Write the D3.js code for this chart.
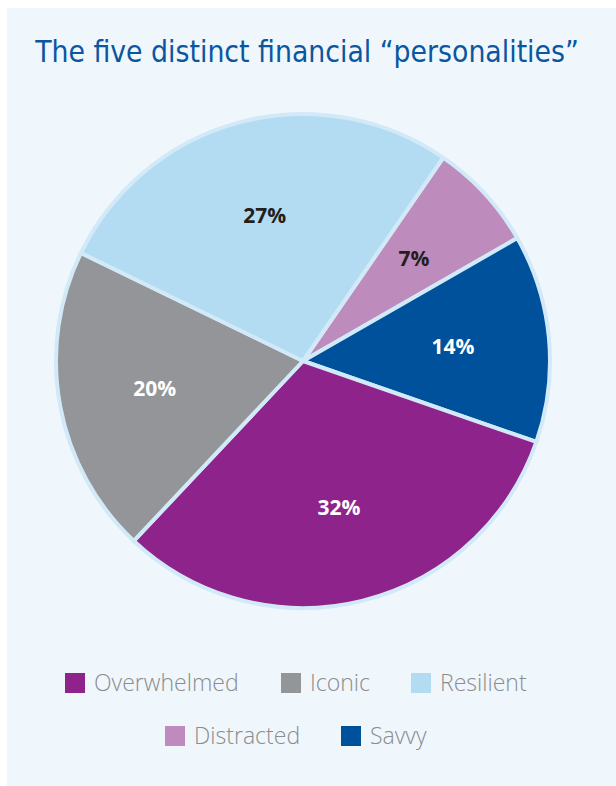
<!DOCTYPE html>
<html>
<head>
<meta charset="utf-8">
<script src="https://d3js.org/d3.v7.min.js"></script>
<style>
  body { margin: 0; background: #fff; }
</style>
</head>
<body>
<script>
  // slice order clockwise, starting near 1 o'clock
  const categories = ["Distracted", "Savvy", "Overwhelmed", "Iconic", "Resilient"];
  // slice shares (labels show them rounded)
  const values = [7.1, 13.6, 31.7, 20.2, 27.4];
  const colors = ["#be8bbd", "#00519b", "#8e248b", "#939598", "#b3dcf3"];
  const labelColors = ["#231f20", "#ffffff", "#ffffff", "#ffffff", "#231f20"];

  const legendRows = [["Overwhelmed", "Iconic", "Resilient"], ["Distracted", "Savvy"]];

  const width = 616, height = 786;
  const cx = 303, cy = 361, radius = 247;

  var svg = d3.select("body").append("svg")
    .attr("width", width)
    .attr("height", height);

  svg.append("rect")
    .attr("x", 7).attr("y", 8)
    .attr("width", width - 7).attr("height", height - 8)
    .attr("fill", "#f0f7fc");

  var title = svg.append("text")
    .attr("x", 307).attr("y", 62)
    .attr("text-anchor", "middle")
    .attr("font-family", "'Liberation Sans Narrow', 'DejaVu Sans Condensed', Roboto")
    .attr("font-size", 33)
    .attr("fill", "#0a56a0")
    .text("The five distinct financial \u201cpersonalities\u201d");
  // size the title so it spans the same width as the original
  var tw = title.node().getComputedTextLength();
  title.attr("font-size", Math.min(34, 33 * 544 / tw));

  var color = d3.scaleOrdinal().domain(categories).range(colors);

  var start = 34.6 * Math.PI / 180;
  var pie = d3.pie().sort(null)
    .startAngle(start)
    .endAngle(start + 2 * Math.PI);

  var arcs = pie(values);
  var arc = d3.arc().innerRadius(0).outerRadius(radius);
  var labelArc = d3.arc().innerRadius(radius * 0.61).outerRadius(radius * 0.61);

  var g = svg.append("g").attr("transform", "translate(" + cx + "," + cy + ")");

  g.selectAll("path")
    .data(arcs)
    .enter()
    .append("path")
    .attr("d", arc)
    .attr("fill", function(d, i) { return color(categories[i]); })
    .attr("stroke", "#d2e9f8")
    .attr("stroke-width", 4)
    .attr("stroke-linejoin", "round");

  g.selectAll("text")
    .data(arcs)
    .enter()
    .append("text")
    .attr("transform", function(d) { return "translate(" + labelArc.centroid(d) + ")"; })
    .attr("dy", "0.35em")
    .attr("text-anchor", "middle")
    .attr("font-family", "Open Sans")
    .attr("font-weight", "bold")
    .attr("font-size", 21)
    .attr("fill", function(d, i) { return labelColors[i]; })
    .text(function(d) { return Math.round(d.data) + "%"; });

  // legend
  var rowY = [683, 736];
  var rowX = [[65, 281, 411], [165, 341]];
  legendRows.forEach(function(row, r) {
    var lg = svg.append("g").selectAll("g")
      .data(row)
      .enter()
      .append("g")
      .attr("transform", function(d, i) { return "translate(" + rowX[r][i] + "," + rowY[r] + ")"; });
    lg.append("rect")
      .attr("x", 0).attr("y", -10)
      .attr("width", 20).attr("height", 20)
      .attr("fill", function(d) { return color(d); });
    lg.append("text")
      .attr("x", 29).attr("y", 0)
      .attr("dy", "0.35em")
      .attr("font-family", "Open Sans")
      .attr("font-weight", 300)
      .attr("font-size", 24)
      .attr("fill", "#8a8c8f")
      .text(function(d) { return d; })
      .each(function() {
        // the original face is a little narrower than Open Sans
        var w = this.getComputedTextLength();
        d3.select(this).attr("textLength", w * 0.96).attr("lengthAdjust", "spacingAndGlyphs");
      });
  });
</script>
</body>
</html>
